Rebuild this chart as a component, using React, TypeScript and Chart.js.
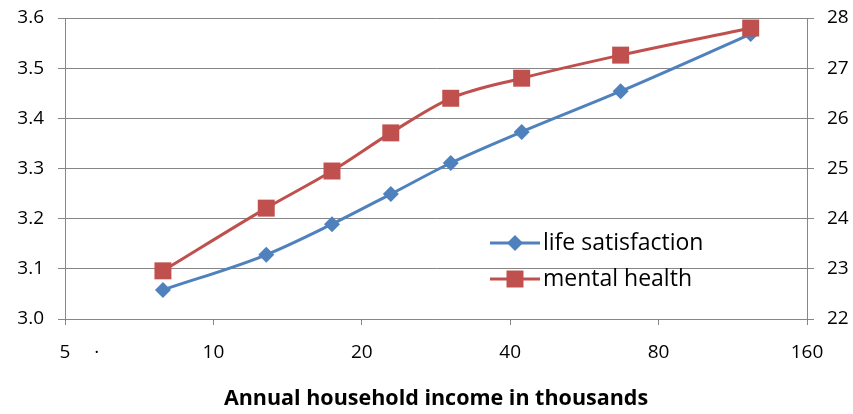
import React, { useEffect, useRef } from "react";
import { Chart, registerables } from "chart.js";

Chart.register(...registerables);

const incomes = [7.9, 12.8, 17.4, 22.9, 30.3, 42.2, 67, 123];
const lifeSatisfaction = [3.058, 3.128, 3.189, 3.249, 3.311, 3.373, 3.454, 3.568];
const mentalHealth = [22.96, 24.21, 24.95, 25.71, 26.4, 26.8, 27.26, 27.8];
const xTicks = [5, 10, 20, 40, 80, 160];
const dotTick = 5.8;
const leftTicks = [3.0, 3.1, 3.2, 3.3, 3.4, 3.5, 3.6];
const rightTicks = [22, 23, 24, 25, 26, 27, 28];
const seriesNames = ["life satisfaction", "mental health"];
const xTitle = "Annual household income in thousands";

const BLUE = "#4F81BD";
const RED = "#C0504D";
const GRAY = "#868686";
const FONT = "'Open Sans', sans-serif";

export default function App() {
  const ref = useRef<HTMLCanvasElement | null>(null);
  useEffect(() => {
    document.body.style.margin = "0";
    const canvas = ref.current!;
    const legendPlugin = {
      id: "insideLegend",
      afterDatasetsDraw(chart: any) {
        const c = chart.ctx;
        const items = [
          { name: seriesNames[0], color: BLUE, style: "rectRot", r: 8, y: 243 },
          { name: seriesNames[1], color: RED, style: "rect", r: 12, y: 279 },
        ];
        c.save();
        for (const it of items) {
          c.strokeStyle = it.color;
          c.lineWidth = 3;
          c.beginPath();
          c.moveTo(490, it.y);
          c.lineTo(540, it.y);
          c.stroke();
          c.fillStyle = it.color;
          if (it.style === "rect") {
            const s = it.r * Math.SQRT1_2;
            c.fillRect(515 - s, it.y - s, 2 * s, 2 * s);
          } else {
            c.beginPath();
            c.moveTo(515, it.y - it.r);
            c.lineTo(515 + it.r, it.y);
            c.lineTo(515, it.y + it.r);
            c.lineTo(515 - it.r, it.y);
            c.closePath();
            c.fill();
          }
          c.fillStyle = "#000";
          c.font = "23px " + FONT;
          c.textBaseline = "middle";
          c.textAlign = "left";
          c.fillText(it.name, 543, it.y);
        }
        c.restore();
      },
    };
    const noPad = (s: any) => {
      s.paddingTop = 0;
      s.paddingBottom = 0;
    };
    const chart = new Chart(canvas, {
      type: "line",
      data: {
        datasets: [
          {
            label: seriesNames[1],
            data: incomes.map((x, i) => ({ x, y: mentalHealth[i] })),
            yAxisID: "y2",
            borderColor: RED,
            backgroundColor: RED,
            borderWidth: 3,
            pointStyle: "rect",
            pointRadius: 12,
            pointBorderWidth: 0,
            cubicInterpolationMode: "monotone",
          },
          {
            label: seriesNames[0],
            data: incomes.map((x, i) => ({ x, y: lifeSatisfaction[i] })),
            yAxisID: "y",
            borderColor: BLUE,
            backgroundColor: BLUE,
            borderWidth: 3,
            pointStyle: "rectRot",
            pointRadius: 8,
            pointBorderWidth: 0,
            cubicInterpolationMode: "monotone",
          },
        ],
      },
      options: {
        responsive: false,
        animation: false,
        layout: { padding: { top: 18, left: 0, right: 0, bottom: 0 } },
        plugins: { legend: { display: false }, tooltip: { enabled: false } },
        scales: {
          x: {
            type: "logarithmic",
            min: 5,
            max: 160,
            afterBuildTicks: (s: any) => {
              s.ticks = [...xTicks, dotTick].map((v) => ({ value: v }));
            },
            afterFit: (s: any) => {
              s.height = 95;
            },
            ticks: {
              autoSkip: false,
              maxRotation: 0,
              color: "#000",
              padding: 16,
              font: { family: FONT, size: 19 },
              callback: (v: any) => (v === dotTick ? "·" : String(v)),
            },
            grid: {
              drawOnChartArea: false,
              drawTicks: true,
              tickLength: 6,
              tickColor: (ctx: any) => (ctx.tick && ctx.tick.value === dotTick ? "rgba(0,0,0,0)" : GRAY),
            },
            border: { display: true, color: GRAY, width: 1 },
            title: {
              display: true,
              text: xTitle,
              color: "#000",
              font: { family: FONT, size: 21.5, weight: "bold" },
              padding: { top: 0, bottom: 2 },
            },
          },
          y: {
            position: "left",
            min: 3.0,
            max: 3.6,
            afterBuildTicks: (s: any) => {
              s.ticks = leftTicks.map((v) => ({ value: v }));
            },
            afterFit: (s: any) => {
              s.width = 65;
              noPad(s);
            },
            ticks: {
              color: "#000",
              padding: 14,
              font: { family: FONT, size: 19 },
              callback: (v: any) => Number(v).toFixed(1),
            },
            grid: { color: GRAY, lineWidth: 1, tickLength: 7, tickColor: GRAY },
            border: { display: true, color: GRAY, width: 1 },
          },
          y2: {
            position: "right",
            min: 22,
            max: 28,
            afterBuildTicks: (s: any) => {
              s.ticks = rightTicks.map((v) => ({ value: v }));
            },
            afterFit: (s: any) => {
              s.width = 46;
              noPad(s);
            },
            ticks: {
              color: "#000",
              padding: 13,
              font: { family: FONT, size: 19 },
              callback: (v: any) => String(v),
            },
            grid: { drawOnChartArea: false, tickLength: 7, tickColor: GRAY },
            border: { display: true, color: GRAY, width: 1 },
          },
        },
      },
      plugins: [legendPlugin],
    } as any);
    return () => chart.destroy();
  }, []);
  return <canvas ref={ref} width={853} height={414} style={{ display: "block" }} />;
}
